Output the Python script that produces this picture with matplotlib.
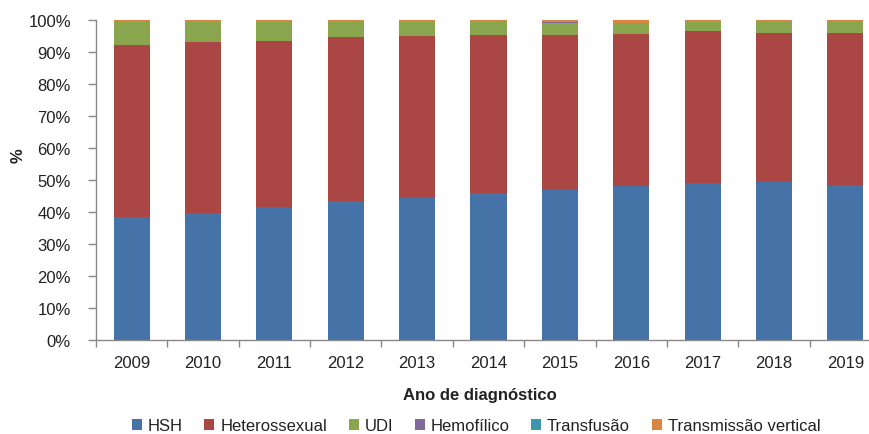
import matplotlib
matplotlib.use("Agg")
import matplotlib.pyplot as plt
import numpy as np

years = ["2009", "2010", "2011", "2012", "2013", "2014", "2015", "2016", "2017", "2018", "2019"]
hsh = [38.3, 39.6, 41.5, 43.3, 44.3, 45.8, 46.7, 47.9, 49.0, 49.3, 48.3]
hetero = [53.7, 53.4, 51.9, 51.2, 50.6, 49.4, 48.4, 47.7, 47.5, 46.7, 47.7]
udi = [7.2, 6.2, 5.8, 4.7, 4.3, 4.0, 4.0, 3.3, 2.7, 3.2, 3.3]
hemofilico = [0.05, 0.05, 0.05, 0.05, 0.05, 0.05, 0.05, 0.05, 0.05, 0.05, 0.05]
transfusao = [0.05, 0.05, 0.05, 0.05, 0.05, 0.05, 0.05, 0.05, 0.05, 0.05, 0.05]
vertical = [0.6, 0.6, 0.6, 0.6, 0.6, 0.6, 0.6, 0.9, 0.6, 0.6, 0.6]

series = [
    ("HSH", hsh, "#4572A7"),
    ("Heterossexual", hetero, "#AA4643"),
    ("UDI", udi, "#89A54E"),
    ("Hemofílico", hemofilico, "#80699B"),
    ("Transfusão", transfusao, "#3D96AE"),
    ("Transmissão vertical", vertical, "#DB843D"),
]

plt.rcParams['font.family'] = ['Liberation Sans', 'DejaVu Sans']
W, H = 870, 435
fig = plt.figure(figsize=(W / 100, H / 100), dpi=100)
left, right = 96, 881
top, bottom = 20.7, 340.7
ax = fig.add_axes([left / W, 1 - bottom / H, (right - left) / W, (bottom - top) / H])

x = np.arange(len(years))
base = np.zeros(len(years))
handles = []
for name, vals, col in series:
    v = np.array(vals)
    b = ax.bar(x, v, 0.505, bottom=base, color=col, label=name, linewidth=0)
    handles.append(b)
    base += v

ax.set_xlim(-0.5, len(years) - 0.5)
ax.set_ylim(0, 100)
ax.set_yticks(np.arange(0, 101, 10))
ax.set_yticklabels([f"{v}%" for v in range(0, 101, 10)], fontsize=12, color="#222222")
ax.set_xticks(x)
ax.set_xticklabels(years, fontsize=12, color="#222222")
ax.set_xticks(np.arange(-0.5, len(years), 1), minor=True)
ax.tick_params(axis='x', which='major', length=0, pad=11)
ax.tick_params(axis='x', which='minor', length=5, color="#888888", width=1, direction='out')
ax.tick_params(axis='y', length=6, color="#888888", width=1, pad=12)
for s in ['top', 'right']:
    ax.spines[s].set_visible(False)
for s in ['left', 'bottom']:
    ax.spines[s].set_color("#888888")
    ax.spines[s].set_linewidth(1)

fig.text(480 / W, 1 - 396 / H, "Ano de diagnóstico", ha='center', va='center',
         fontsize=12, fontweight='bold', color="#222222")
fig.text(18 / W, 1 - 156 / H, "%", ha='center', va='center', rotation=90,
         fontsize=12, fontweight='bold', color="#222222")

fig.legend(handles=handles, labels=[s[0] for s in series], loc='center',
           bbox_to_anchor=(476 / W, 1 - 427 / H), ncol=6, frameon=False,
           fontsize=12, handlelength=0.6, handleheight=0.6, handletextpad=0.35,
           columnspacing=1.3, labelcolor="#222222")

fig.savefig("out.png", dpi=100)
